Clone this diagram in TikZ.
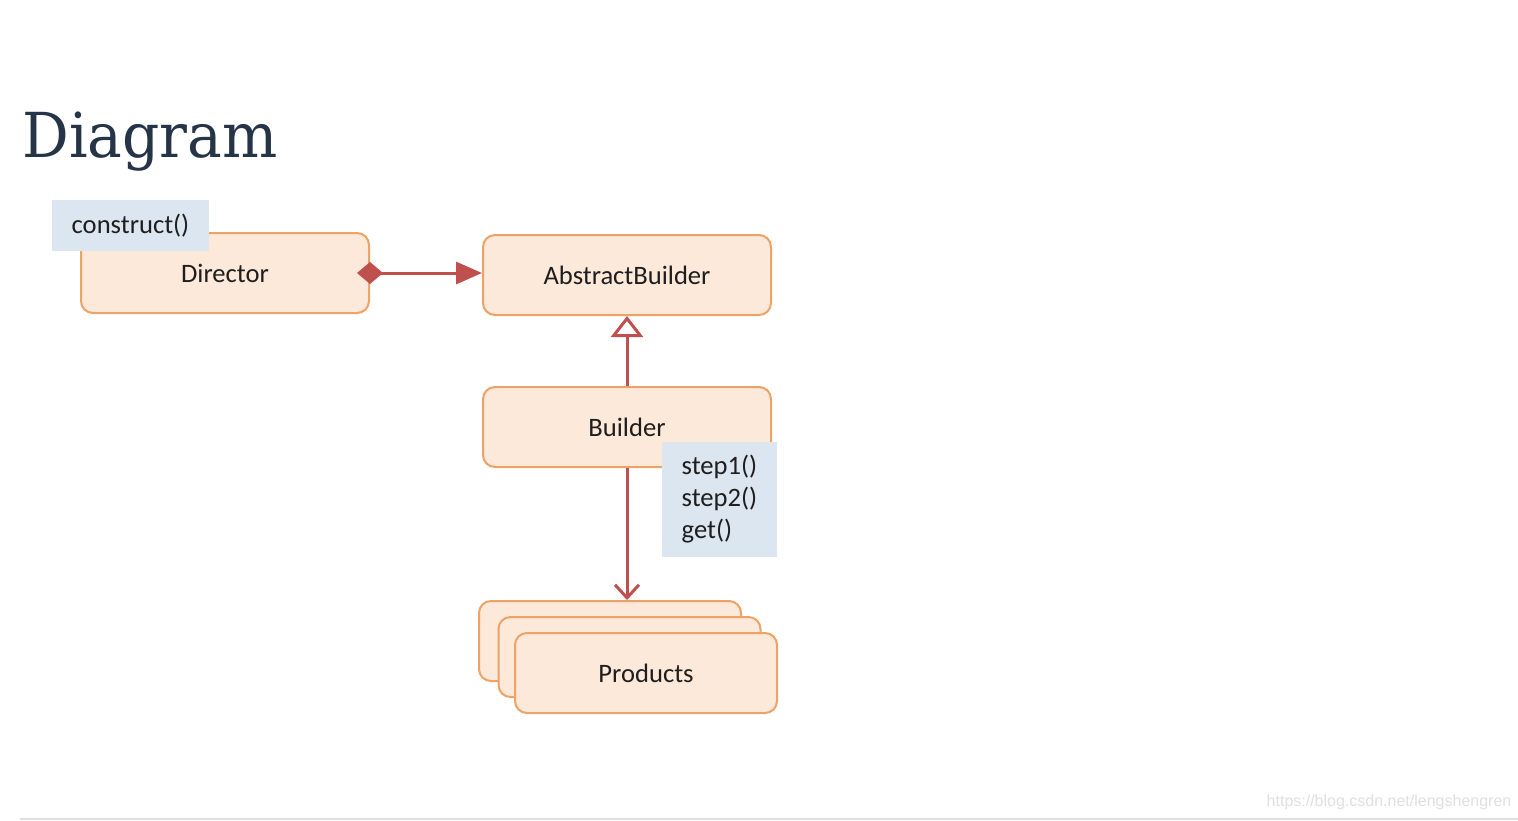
\documentclass[tikz,border=0pt]{standalone}
\usepackage{fontspec}
\setmainfont{Carlito}
\newfontfamily\titlefont{DejaVu Serif}
\newfontfamily\wmfont{Liberation Sans}
\usetikzlibrary{arrows.meta}
\definecolor{boxfill}{HTML}{FDE9D9}
\definecolor{boxdraw}{HTML}{EDA266}
\definecolor{notefill}{HTML}{DCE6F1}
\definecolor{linkred}{HTML}{C0504D}
\definecolor{titlecol}{HTML}{253447}
\definecolor{txt}{HTML}{1E1E1E}
\begin{document}
\begin{tikzpicture}[x=0.5pt,y=-0.5pt,
  cls/.style={draw=boxdraw, fill=boxfill, line width=1pt, rounded corners=6pt,
    minimum width=144pt, minimum height=40pt, inner sep=0pt, text=txt,
    font=\fontsize{13.3}{16}\selectfont},
  prodbox/.style={cls, minimum width=131pt},
  note/.style={fill=notefill, inner sep=0pt, text=txt,
    font=\fontsize{13.3}{16}\selectfont},
  link/.style={draw=linkred, line width=1.5pt},
]
\useasboundingbox (0,0) rectangle (1518,820);
\fill[white] (0,0) rectangle (1518,820);
\node[anchor=base west, text=titlecol, inner sep=0pt,
  font=\titlefont\fontsize{31}{36}\selectfont] (title) at (22,157)
  {\scalebox{0.94}[1]{Diagram}};

\node[cls] (dir) at (225,273) {Director};
\node[cls] (ab) at (627,275) {AbstractBuilder};
\node[cls] (b) at (627,427) {Builder};

\node[prodbox] (p1) at (610,641) {};
\node[prodbox] (p2) at (629.5,657) {};
\node[prodbox] (p3) at (646,673) {Products};

\node[note, minimum width=78.5pt, minimum height=25.5pt] (cn) at (130.5,225.5) {construct()};
\node[note, minimum width=57.5pt, minimum height=57.5pt, align=left] (sn) at (719.5,499.5)
  {step1()\\step2()\\get()};

\draw[link, {Diamond[length=13pt,width=11pt,fill=linkred]}-{Triangle[length=13pt,width=11pt,fill=linkred]},
  shorten <=-6.5pt] (dir.east) -- (dir.east -| ab.west);
\draw[link, -{Triangle[open,length=10.5pt,width=16pt,fill=white]}] (b.north) -- (ab.south);
\draw[link, -{Straight Barb[length=6.5pt,width=12pt]}] (b.south) -- (b.south |- p1.north);

\node[text=black!12, font=\wmfont\fontsize{8}{9.5}\selectfont, inner sep=0pt] (wm) at (1389,802)
  {https://blog.csdn.net/lengshengren};
\draw[black!12, line width=1pt] (20,819) -- (1518,819);
\end{tikzpicture}
\end{document}
